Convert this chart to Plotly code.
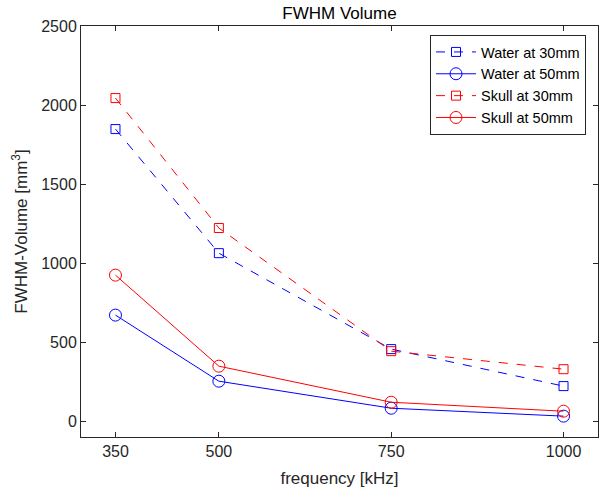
import plotly.graph_objects as go

freq = [350, 500, 750, 1000]
water30 = [1848, 1063, 456, 222]
water50 = [671, 253, 82, 32]
skull30 = [2044, 1222, 443, 329]
skull50 = [924, 348, 120, 63]
xticks = [350, 500, 750, 1000]
yticks = [0, 500, 1000, 1500, 2000, 2500]

FONT = "Liberation Sans, Arial, Helvetica"
fig = go.Figure()
series = [
    ("Water at 30mm", water30, "blue", "dash", "square-open", 9),
    ("Water at 50mm", water50, "blue", "solid", "circle-open", 12),
    ("Skull at 30mm", skull30, "red", "dash", "square-open", 9),
    ("Skull at 50mm", skull50, "red", "solid", "circle-open", 12),
]
for name, ys, col, dash, sym, sz in series:
    fig.add_trace(go.Scatter(
        x=freq, y=ys, name=name, mode="lines+markers",
        line=dict(color=col, width=1, dash=dash),
        marker=dict(symbol=sym, size=sz, color=col, line=dict(width=1, color=col)),
    ))

axis_common = dict(
    showline=True, linecolor="#262626", linewidth=1, mirror="ticks",
    ticks="inside", ticklen=5, tickcolor="#262626", showgrid=False, zeroline=False,
    automargin=False,
    tickfont=dict(family=FONT, size=16, color="#262626"),
)
fig.update_layout(
    width=602, height=490,
    margin=dict(l=81, r=4, t=26, b=53),
    paper_bgcolor="white", plot_bgcolor="white",
    title=dict(text="FWHM Volume", x=(81 + 598) / 2 / 602, xanchor="center", y=1 - 13 / 490, yanchor="middle",
               font=dict(family=FONT, size=17, color="#000000")),
    xaxis=dict(range=[300, 1050], tickvals=xticks,
               title=dict(text="frequency [kHz]", standoff=12,
                          font=dict(family=FONT, size=17, color="#262626")),
               **axis_common),
    yaxis=dict(range=[-100, 2500], tickvals=yticks,
               title=dict(text="FWHM-Volume [mm<sup>3</sup>]", standoff=9,
                          font=dict(family=FONT, size=17, color="#262626")),
               **axis_common),
    legend=dict(x=(586 - 81) / 517, y=(437 - 35) / 411, xanchor="right", yanchor="top",
                bordercolor="#262626", borderwidth=1, bgcolor="white",
                font=dict(family=FONT, size=14.5, color="#000000"),
                tracegroupgap=0, itemwidth=40),
    showlegend=True,
)
fig.write_html("out.html", config={"displayModeBar": False},
               post_script="document.body.style.margin='0';document.body.style.padding='0';")
